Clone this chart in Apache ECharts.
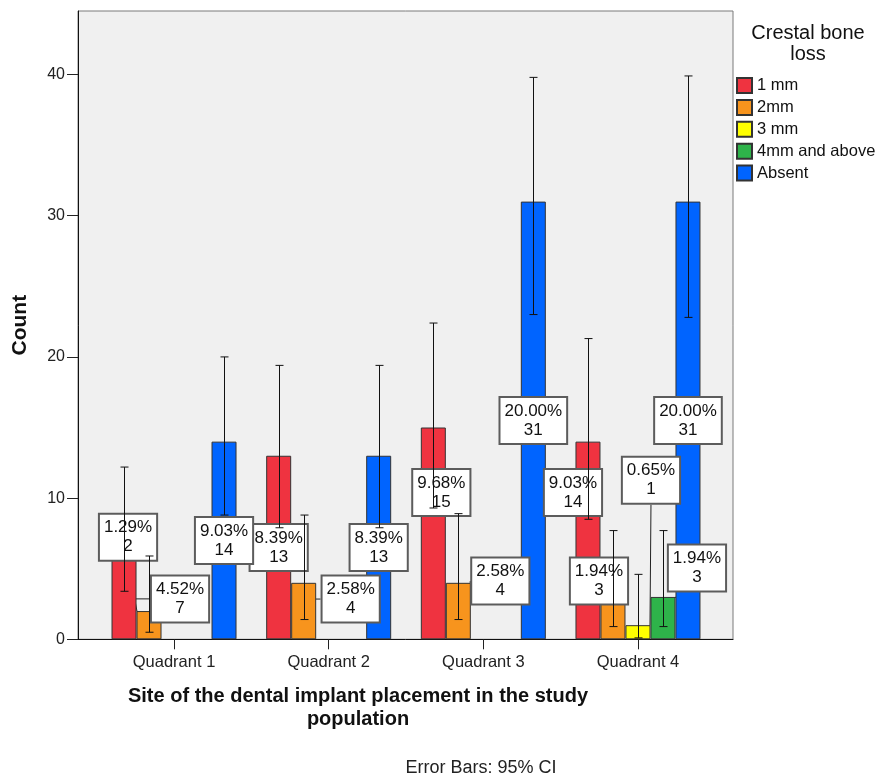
<!DOCTYPE html>
<html>
<head>
<meta charset="utf-8">
<script src="https://cdn.jsdelivr.net/npm/echarts@6/dist/echarts.min.js"></script>
<style>
  html, body { margin: 0; padding: 0; background: #ffffff; }
  #chart { width: 881px; height: 780px; }
</style>
</head>
<body>
<div id="chart"></div>
<script>
// Implant sites (x categories) and crestal bone loss groups (series)
const quadrants = ['Quadrant 1', 'Quadrant 2', 'Quadrant 3', 'Quadrant 4'];
const lossGroups = ['1 mm', '2mm', '3 mm', '4mm and above', 'Absent'];

// Counts per site
const count1mm    = [7, 13, 15, 14];
const count2mm    = [2, 4, 4, 3];
const count3mm    = [null, null, null, 1];
const count4mm    = [null, null, null, 3];
const countAbsent = [14, 13, 31, 31];

// 95% confidence interval of each count: [low, high]
const ci1mm    = [[3.4, 12.2], [7.9, 19.4], [9.3, 22.4], [8.5, 21.3]];
const ci2mm    = [[0.5, 5.9], [1.4, 8.8], [1.4, 8.9], [0.9, 7.7]];
const ci3mm    = [null, null, null, [0.1, 4.6]];
const ci4mm    = [null, null, null, [0.9, 7.7]];
const ciAbsent = [[8.8, 20.0], [7.9, 19.4], [23.0, 39.8], [22.8, 39.9]];

// Count axis tick labels
const yTicks = [0, 10, 20, 30, 40];

const groupCounts = [count1mm, count2mm, count3mm, count4mm, countAbsent];
const groupCIs = [ci1mm, ci2mm, ci3mm, ci4mm, ciAbsent];
const TOTAL = groupCounts.flat().reduce((s, v) => s + (v || 0), 0);

const colors = ['#ef3340', '#f7941d', '#ffff00', '#2eb34a', '#0064ff'];
const FONT = '"Liberation Sans", Arial, sans-serif';
const BAR_W = 25;
const Y_MAX = 44.5;

// Where each value box sits relative to the middle of its bar [dx, dy],
// and whether a guide line joins it to the bar
const labelShift = [
  [[56, 9], [0, 0], [8, -41], [-15, -48]],
  [[-21, -88], [47, -12], [42, -30], [-14, -37]],
  [null, null, null, [13, -152]],
  [null, null, null, [34, -50]],
  [[0, 0], [0, 0], [0, 0], [0, 0]]
];
const labelGuide = [
  [true, false, false, false],
  [true, true, true, false],
  [false, false, false, true],
  [false, false, false, true],
  [false, false, false, false]
];

const barSeries = lossGroups.map((name, g) => ({
  type: 'bar',
  name: name,
  xAxisIndex: 0,
  yAxisIndex: 0,
  barWidth: BAR_W,
  barGap: '0%',
  z: 2,
  itemStyle: { color: colors[g], borderColor: '#333333', borderWidth: 1 },
  data: groupCounts[g].map((v, i) => ({
    value: v,
    labelLine: { show: labelGuide[g][i], lineStyle: { color: '#222', width: 1 } }
  })),
  label: {
    show: true,
    position: 'inside',
    formatter: p => (p.value / TOTAL * 100).toFixed(2) + '%\n' + p.value,
    fontFamily: FONT,
    fontSize: 17,
    lineHeight: 19,
    color: '#111',
    backgroundColor: '#ffffff',
    borderColor: '#5c5c5c',
    borderWidth: 2,
    padding: [4, 4, 3, 4]
  },
  labelLine: { show: false, lineStyle: { color: '#222', width: 1 } },
  labelLayout: params => {
    const s = labelShift[params.seriesIndex] && labelShift[params.seriesIndex][params.dataIndex];
    return s ? { dx: s[0], dy: s[1] } : {};
  }
}));

// Error bars drawn at the centre of each bar in the group
const errorSeries = lossGroups.map((name, g) => ({
  type: 'custom',
  name: name + ' CI',
  xAxisIndex: 0,
  yAxisIndex: 0,
  z: 10,
  silent: true,
  encode: { x: 0, y: [1, 2] },
  data: groupCIs[g].map((c, i) => (c ? [i, c[0], c[1]] : null)).filter(Boolean),
  renderItem: (params, api) => {
    const cat = api.value(0);
    const lo = api.coord([cat, api.value(1)]);
    const hi = api.coord([cat, api.value(2)]);
    const x = Math.round(lo[0] + (g - (lossGroups.length - 1) / 2) * BAR_W) + 0.5;
    const cap = 4;
    const st = { stroke: '#111', lineWidth: 1 };
    return {
      type: 'group',
      children: [
        { type: 'line', shape: { x1: x, y1: hi[1], x2: x, y2: lo[1] }, style: st },
        { type: 'line', shape: { x1: x - cap, y1: hi[1], x2: x + cap, y2: hi[1] }, style: st },
        { type: 'line', shape: { x1: x - cap, y1: lo[1], x2: x + cap, y2: lo[1] }, style: st }
      ]
    };
  }
}));

const chart = echarts.init(document.getElementById('chart'), null, { renderer: 'canvas' });

chart.setOption({
  animation: false,
  textStyle: { fontFamily: FONT },
  grid: [
    // bar area
    { left: 96.7, right: 165.7, top: 11, bottom: 140.7 },
    // framed plot background
    { left: 78, right: 148, top: 11, bottom: 140.7, show: true,
      backgroundColor: '#f0f0f0', borderColor: '#7a7a7a', borderWidth: 1, z: -1 }
  ],
  xAxis: [
    {
      type: 'category', gridIndex: 0, data: quadrants,
      axisLine: { show: false },
      axisTick: { show: true, alignWithLabel: true, length: 10, lineStyle: { color: '#222' } },
      axisLabel: { fontSize: 16.5, color: '#222', margin: 15, fontFamily: FONT }
    },
    {
      type: 'value', gridIndex: 1, min: 0, max: 1,
      axisLine: { show: true, lineStyle: { color: '#111', width: 1 } },
      axisTick: { show: false }, axisLabel: { show: false }, splitLine: { show: false }
    }
  ],
  yAxis: [
    { type: 'value', gridIndex: 0, min: 0, max: Y_MAX, show: false, splitLine: { show: false } },
    {
      type: 'value', gridIndex: 1, min: 0, max: Y_MAX, interval: 10,
      name: 'Count', nameLocation: 'middle', nameGap: 47,
      nameTextStyle: { fontSize: 21, fontWeight: 'bold', color: '#111', fontFamily: FONT },
      axisLine: { show: true, lineStyle: { color: '#111', width: 1 } },
      axisTick: { show: true, length: 11, customValues: yTicks, lineStyle: { color: '#222' } },
      axisLabel: { fontSize: 16, color: '#222', margin: 13, customValues: yTicks, fontFamily: FONT },
      splitLine: { show: false }
    }
  ],
  legend: {
    data: lossGroups,
    orient: 'vertical',
    left: 731,
    top: 72,
    icon: 'rect',
    itemWidth: 15,
    itemHeight: 15,
    itemGap: 4.9,
    textStyle: { fontSize: 16.5, color: '#111', fontFamily: FONT },
    selectedMode: false
  },
  graphic: [
    {
      type: 'text', x: 808, y: 23,
      style: { text: 'Crestal bone\nloss', align: 'center', fontSize: 20, lineHeight: 21,
               fill: '#111', fontFamily: FONT }
    },
    {
      type: 'text', x: 358, y: 685,
      style: { text: 'Site of the dental implant placement in the study\npopulation', align: 'center',
               fontSize: 20, lineHeight: 23, fontWeight: 'bold', fill: '#111', fontFamily: FONT }
    },
    {
      type: 'text', x: 481, y: 759,
      style: { text: 'Error Bars: 95% CI', align: 'center', fontSize: 18, fill: '#222', fontFamily: FONT }
    }
  ],
  series: barSeries.concat(errorSeries)
});
</script>
</body>
</html>
